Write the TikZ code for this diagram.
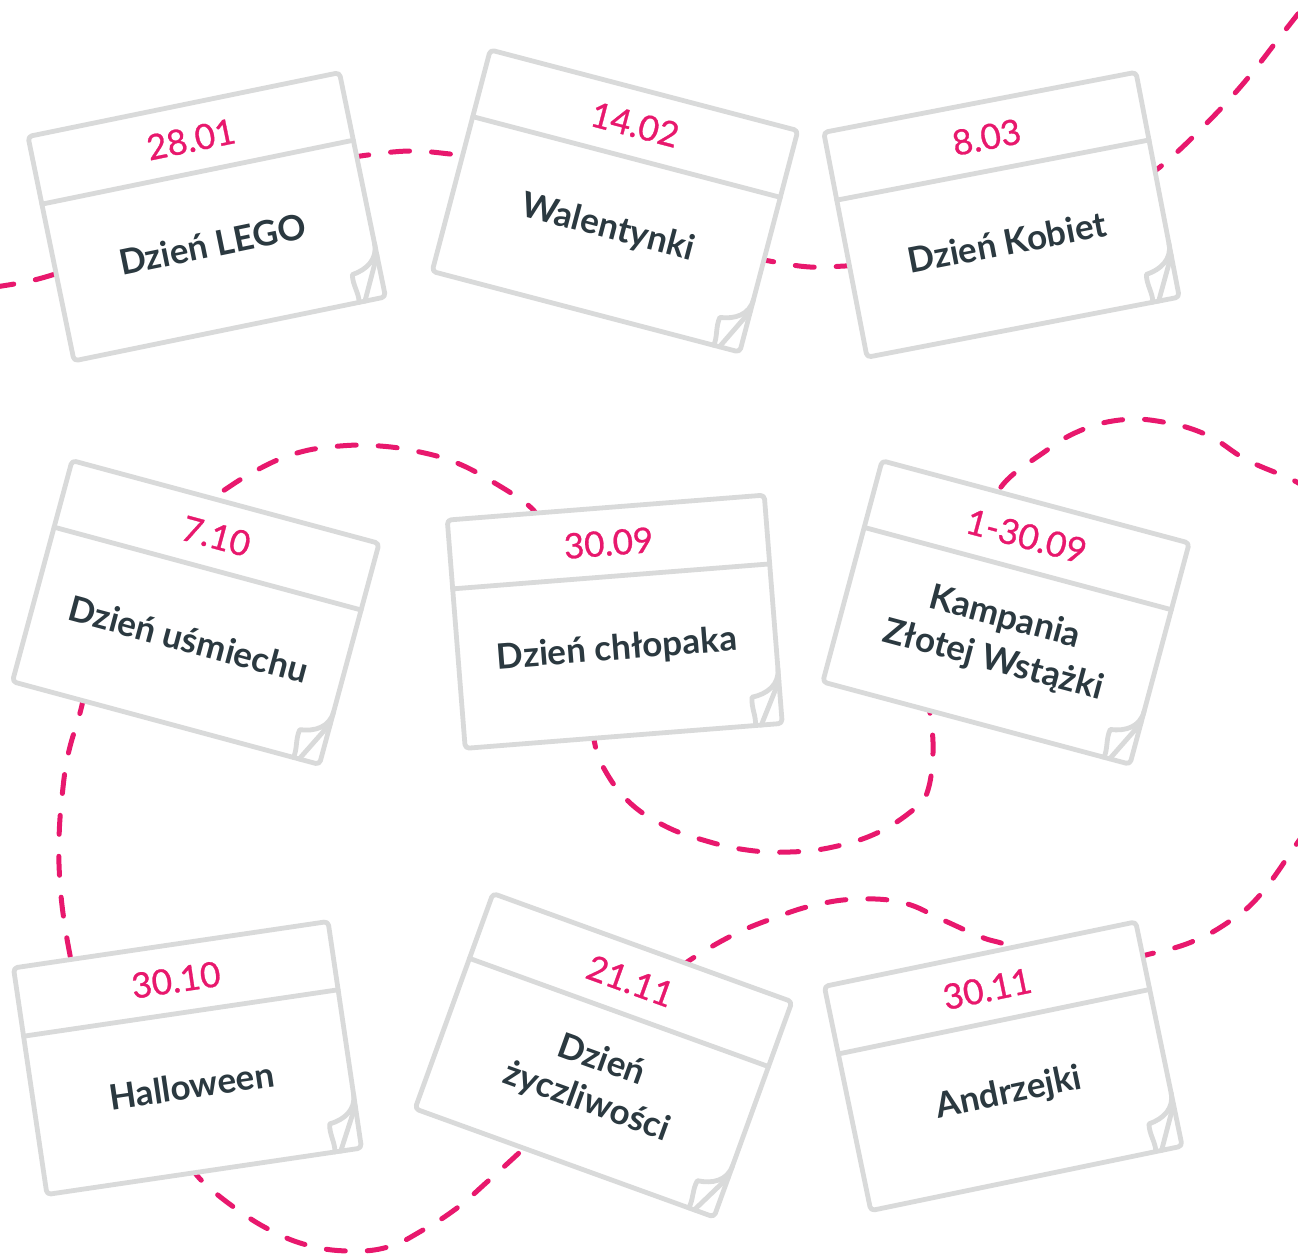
\documentclass[tikz,border=0pt]{standalone}
\usepackage{fontspec}
\setmainfont{Lato}
\newfontface\datefont{Lato}[FakeBold=0.8]
\usepackage{xcolor}
\usepackage{tikz}

\definecolor{datepink}{HTML}{E8186D}
\definecolor{cardgrey}{HTML}{D9DADA}
\definecolor{titleslate}{HTML}{2B3940}

\begin{document}
\begin{tikzpicture}[
        x = 0.5pt, y = -0.5pt,
        cardline/.style = {
            draw = cardgrey,
            line width = 2.4pt,
            line cap = round,
            line join = round
        },
        timeline/.style = {
            draw = datepink,
            line width = 2.5pt,
            line cap = round,
            dash pattern = on 9.5pt off 11pt
        },
        datetext/.style = {
            transform shape,
            text = datepink,
            font = \fontsize{17.5}{22}\datefont
        },
        titletext/.style = {
            transform shape,
            align = center,
            text = titleslate,
            font = \fontsize{17.5}{22}\selectfont\bfseries
        },
        pics/card/.style n args = {2}{
            code = {
                \draw[cardline, fill = white, rounded corners = 2pt]
                    (-159,-114.5) rectangle (159,114.5);
                \draw[cardline] (-159,-45.5) -- (159,-45.5);
                % curled corner
                \draw[cardline] (159,60) .. controls (159,76) and (146,84) .. (131,86)
                    .. controls (129,96) and (134,106) .. (132,114.5);
                \draw[cardline] (159,72) -- (138,114.5);
                \node[datetext] (-date) at (0,-79) {#1};
                \node[titletext] (-title) at (0,28) {#2};
            }
        }
    ]
    \useasboundingbox (0,0) rectangle (1298,1254);

    % first row
    \draw[timeline] plot[smooth, tension = 0.7] coordinates {
        (-5,287) (30,281) (62,272) (75,268)};
    \draw[timeline] plot[smooth, tension = 0.7] coordinates {
        (350,158) (368,155) (410,151) (450,154) (470,157)};
    \draw[timeline] plot[smooth, tension = 0.7] coordinates {
        (755,258) (775,262) (810,267) (845,266) (860,265)};
    \draw[timeline] plot[smooth, tension = 0.7] coordinates {
        (1145,175) (1160,167) (1198,132) (1242,85) (1283,33) (1305,5)};

    % autumn
    \draw[timeline] plot[smooth, tension = 0.7] coordinates {
        (1310,492) (1293,480) (1247,460) (1207,435) (1163,422) (1120,420)
        (1077,432) (1040,455) (1007,480) (990,505)};
    \draw[timeline] plot[smooth, tension = 0.7] coordinates {
        (925,695) (930,713) (933,753) (927,793) (913,810) (877,833) (833,847)
        (790,852) (747,850) (703,840) (663,825) (627,800) (602,765) (594,740)
        (592,725)};
    \draw[timeline] plot[smooth, tension = 0.7] coordinates {
        (540,520) (528,505) (493,482) (457,463) (420,452) (380,446) (340,446)
        (297,453) (257,470) (220,493) (205,505)};
    \draw[timeline] plot[smooth, tension = 0.7] coordinates {
        (84,695) (80,713) (68,755) (62,797) (59,840) (60,883) (65,927) (74,975)};
    \draw[timeline] plot[smooth, tension = 0.7] coordinates {
        (190,1165) (203,1182) (235,1208) (270,1230) (307,1245) (348,1251)
        (388,1247) (423,1230) (457,1208) (487,1182) (520,1152) (532,1140)};
    \draw[timeline] plot[smooth, tension = 0.7] coordinates {
        (680,970) (690,960) (733,935) (774,918) (815,905) (859,899) (904,903)
        (943,920) (981,937) (1004,944) (1030,955)};
    \draw[timeline] plot[smooth, tension = 0.7] coordinates {
        (1135,958) (1146,955) (1189,943) (1227,923) (1260,895) (1298,842)
        (1310,825)};

    \pic[rotate = 11.6] (lego) at (206.75,216.75) {card={28.01}{Dzień LEGO}};
    \pic[rotate = -14.7] (walentynki) at (615,201) {card={14.02}{Walentynki}};
    \pic[rotate = 10.9] (kobiet) at (1001.5,214.75) {card={8.03}{Dzień Kobiet}};

    \pic[rotate = -15.1] (usmiech) at (195.75,612.5) {card={7.10}{Dzień uśmiechu}};
    \pic[rotate = 4.5] (chlopak) at (614.75,621.75) {card={30.09}{Dzień chłopaka}};
    \pic[rotate = -15] (wstazka) at (1006,612.5) {card={1-30.09}{Kampania\\Złotej Wstążki}};

    \pic[rotate = 8.4] (halloween) at (187.5,1058) {card={30.10}{Halloween}};
    \pic[rotate = -19.9] (zyczliwosc) at (603.5,1055.25) {card={21.11}{Dzień\\życzliwości}};
    \pic[rotate = 11.7] (andrzejki) at (1003.25,1066.25) {card={30.11}{Andrzejki}};
\end{tikzpicture}
\end{document}
